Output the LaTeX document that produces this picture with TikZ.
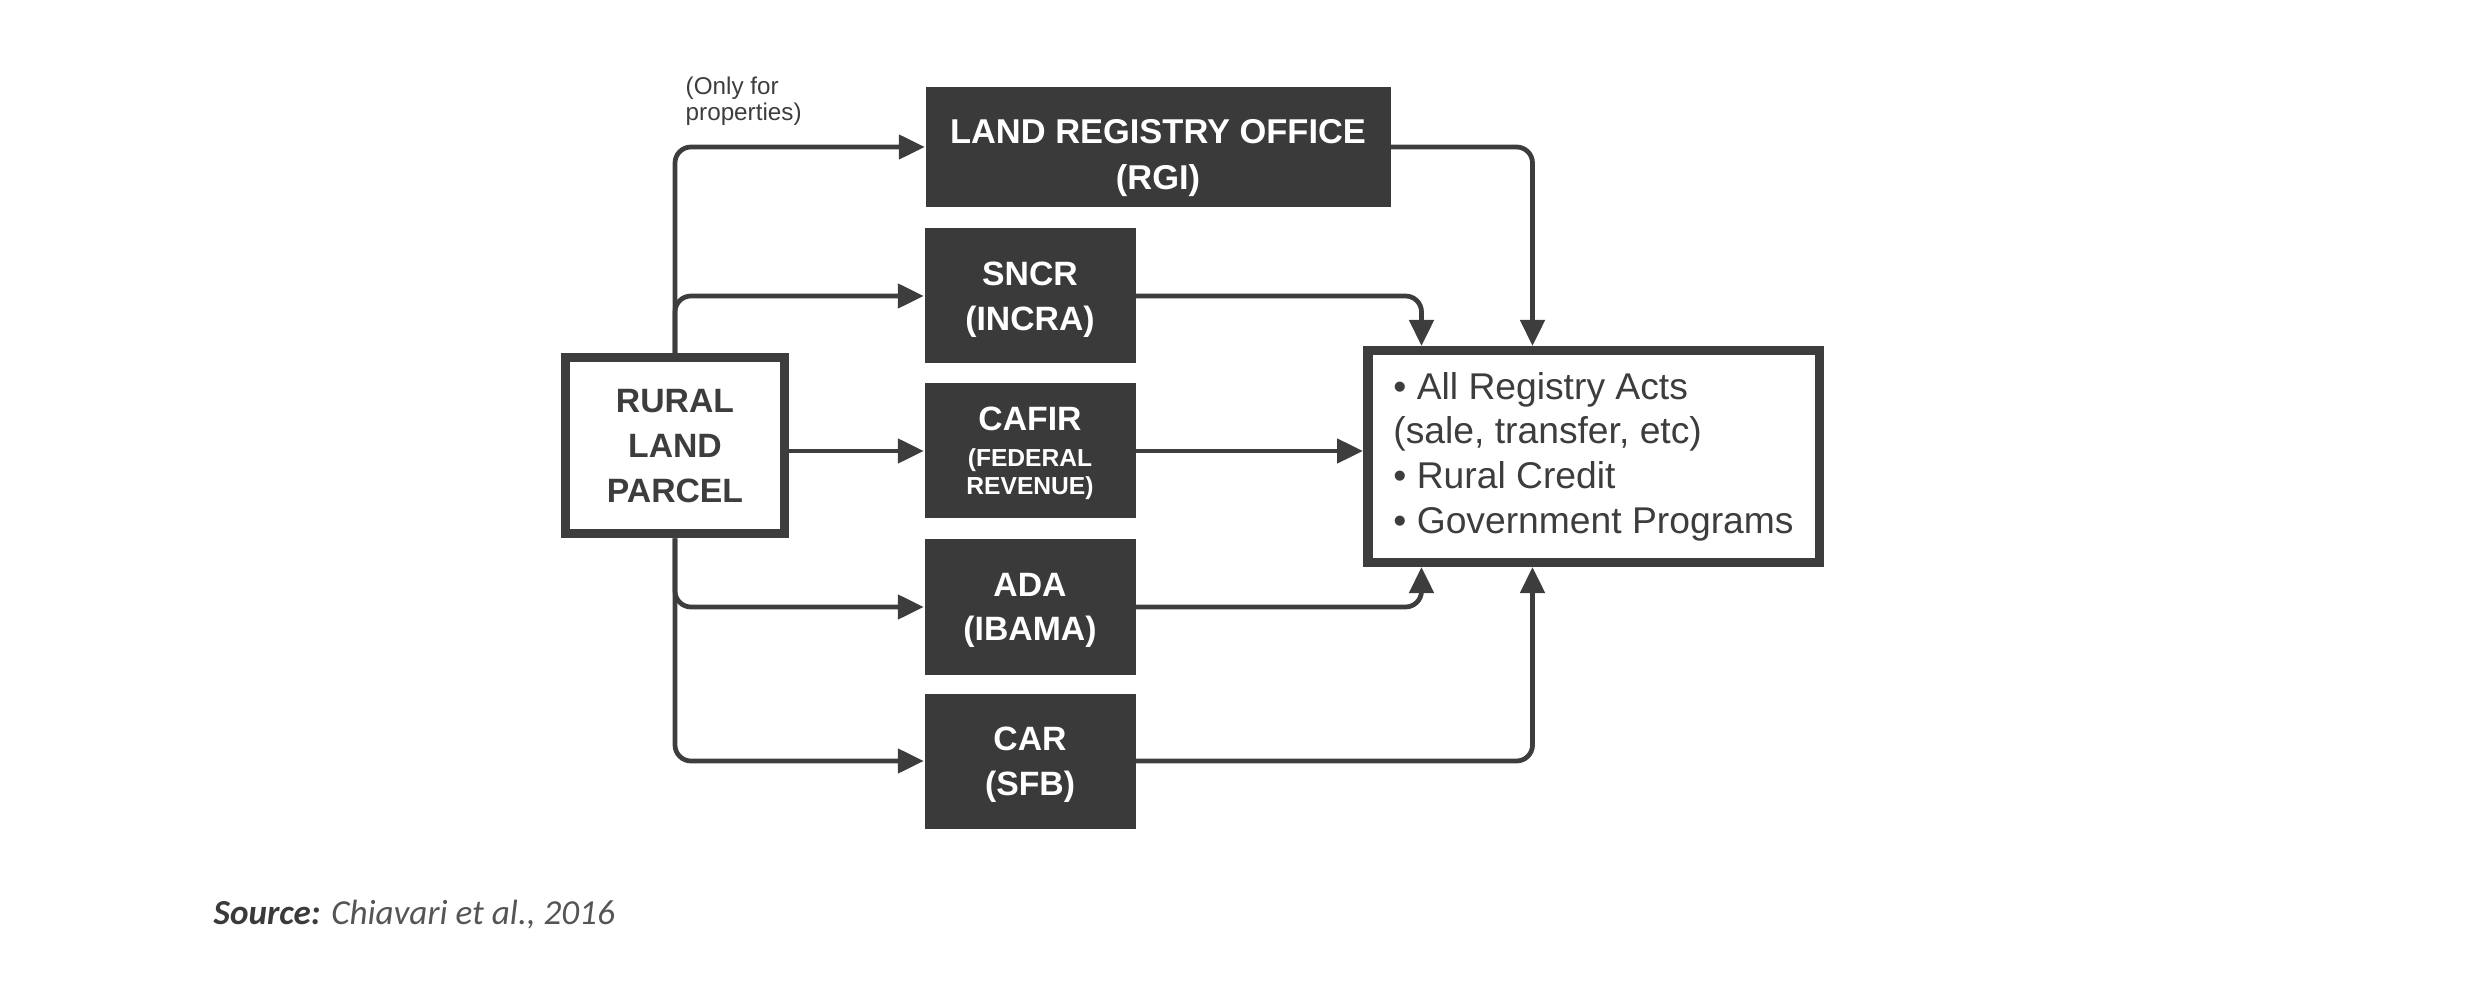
\documentclass[tikz,border=0pt]{standalone}
\usepackage{fontspec}
\setmainfont{Liberation Sans}
\newfontfamily\srcfont{Carlito}
\usetikzlibrary{arrows.meta}
\definecolor{boxgray}{HTML}{3A3A3A}
\definecolor{linegray}{HTML}{3D3D3D}
\definecolor{srcgray}{HTML}{555555}
\begin{document}
\begin{tikzpicture}[
  agency/.style={fill=boxgray, text=white, align=center, inner sep=0pt, text depth=0pt,
    font=\fontsize{9.6}{12.7}\selectfont\bfseries,
    minimum width=2.11cm, minimum height=1.35cm},
  parcelbox/.style={draw=linegray, line width=0.9mm, fill=white, align=center,
    text=linegray, font=\fontsize{9.6}{12.7}\selectfont\bfseries,
    minimum width=2.19cm, minimum height=1.76cm},
  resultbox/.style={draw=linegray, line width=0.95mm, align=left, text=linegray,
    font=\fontsize{10.6}{12.7}\selectfont,
    minimum width=4.515cm, minimum height=2.115cm},
  flow/.style={draw=linegray, line width=1.35pt, rounded corners=1.6mm,
    -{Triangle[length=2.6mm,width=2.4mm]}}]

\useasboundingbox (0,0) rectangle (24.8,9.84);

\node [parcelbox] (parcel) at (6.75,5.38) {RURAL\\LAND\\PARCEL};

\node [agency, minimum width=4.65cm, minimum height=1.2cm, text height=24.2pt,
  font=\fontsize{9.8}{13.2}\selectfont\bfseries] (lro) at (11.58,8.37)
  {LAND REGISTRY OFFICE\\(RGI)};
\node [agency] (sncr) at (10.30,6.88) {SNCR\\(INCRA)};
\node [agency] (cafir) at (10.30,5.33)
  {CAFIR\\[-2.4pt]{\fontsize{7}{8}\selectfont (FEDERAL}\\[-4.7pt]{\fontsize{7}{8}\selectfont REVENUE)}};
\node [agency] (ada) at (10.30,3.77) {ADA\\(IBAMA)};
\node [agency] (car) at (10.30,2.23) {CAR\\(SFB)};

\node [resultbox] (res) at (15.935,5.275)
  {• All Registry Acts\\(sale, transfer, etc)\\• Rural Credit\\• Government Programs};

\node [anchor=north west, align=left, inner sep=0pt, text=linegray,
  font=\fontsize{6.9}{7.6}\selectfont] (note) at (6.85,9.08) {(Only for\\properties)};

\draw [flow] (parcel.north) |- (lro.west);
\draw [flow] (parcel.north) |- (sncr.west);
\draw [flow] (parcel.east |- cafir) -- (cafir.west);
\draw [flow] (parcel.south) |- (ada.west);
\draw [flow] (parcel.south) |- (car.west);

\draw [flow] (lro.east) -| ([xshift=16.95mm]res.north west);
\draw [flow] (sncr.east) -| ([xshift=5.85mm]res.north west);
\draw [flow] (cafir.east) -- (res.west |- cafir);
\draw [flow] (ada.east) -| ([xshift=5.85mm]res.south west);
\draw [flow] (car.east) -| ([xshift=16.95mm]res.south west);

\node [anchor=base west, inner sep=0pt, font=\srcfont\fontsize{10}{12}\selectfont] (src) at (2.13,0.60)
  {\textcolor{boxgray}{\textbf{\textit{Source:}}} \textcolor{srcgray}{\textit{Chiavari et al., 2016}}};
\end{tikzpicture}
\end{document}
